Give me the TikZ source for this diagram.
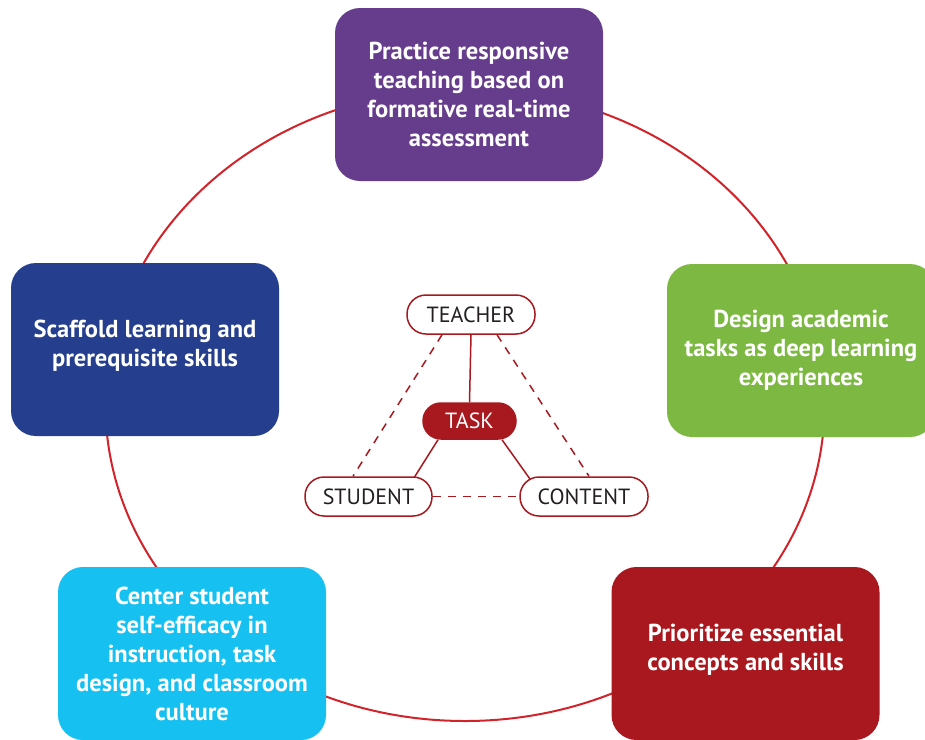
\documentclass[tikz,border=0pt]{standalone}
\usepackage{fontspec}
\setmainfont{PT Sans}
\usetikzlibrary{backgrounds}
\definecolor{ringred}{RGB}{210,35,42}
\definecolor{darkred}{RGB}{168,25,31}
\definecolor{cpurple}{RGB}{102,61,140}
\definecolor{cblue}{RGB}{37,62,141}
\definecolor{cgreen}{RGB}{125,185,66}
\definecolor{ccyan}{RGB}{22,192,240}
\definecolor{cboxred}{RGB}{168,24,30}
\definecolor{labelgray}{RGB}{35,31,32}
\tikzset{
  bigbox/.style={rectangle, rounded corners=25pt, minimum width=268pt, minimum height=173pt,
    inner sep=0pt, align=center, text=white,
    font=\bfseries\fontsize{24.5}{29}\selectfont},
  pill/.style={rectangle, rounded corners=19pt, draw=darkred, line width=1.5pt, fill=white,
    minimum width=128pt, minimum height=39pt, inner sep=0pt, text=labelgray,
    font=\fontsize{22}{24}\selectfont},
  solidlink/.style={draw=darkred, line width=1.5pt},
  dashlink/.style={draw=darkred, line width=1.5pt, dash pattern=on 8pt off 7pt},
}
\begin{document}
\begin{tikzpicture}[x=1pt,y=-1pt]
\useasboundingbox (0,0) rectangle (925,739);
\clip (0,0) rectangle (925,739);
% ring
\draw[ringred, line width=2pt] (465,405) ellipse [x radius=359.5, y radius=316];
% outer boxes
\node[bigbox, fill=cpurple] (practice) at (469,94.5) {Practice responsive\\teaching based on\\formative real-time\\assessment};
\node[bigbox, fill=cblue, text depth=12pt] (scaffold) at (145,349.5) {Scaffold learning and\\prerequisite skills};
\node[bigbox, fill=cgreen] (design) at (801,350.5) {Design academic\\tasks as deep learning\\experiences};
\node[bigbox, fill=ccyan] (center) at (192,653.5) {Center student\\self-efficacy in\\instruction, task\\design, and classroom\\culture};
\node[bigbox, fill=cboxred, text depth=13pt] (prioritize) at (745.5,653.5) {Prioritize essential\\concepts and skills};
% inner triangle
\node[pill] (teacher) at (471,314.5) {TEACHER};
\node[pill, minimum width=93pt, minimum height=36pt, rounded corners=18pt, fill=darkred, text=white] (task) at (469.5,421) {TASK};
\node[pill, minimum width=127pt] (student) at (368.5,496.5) {STUDENT};
\node[pill] (content) at (584,496.5) {CONTENT};
\begin{scope}[on background layer]
\path[solidlink] (teacher.south) -- (task.north);
\path[solidlink, shorten >=-5pt] ([xshift=-31.5pt]task.south) -- ([xshift=46.5pt]student.north);
\path[solidlink, shorten >=-5pt] ([xshift=32.5pt]task.south) -- ([xshift=-56pt]content.north);
\path[dashlink] ([xshift=-29pt]teacher.south) -- ([xshift=-15.5pt]student.north);
\path[dashlink] ([xshift=26pt]teacher.south) -- ([xshift=5pt]content.north);
\path[dashlink] (student.east) -- (content.west);
\end{scope}
\end{tikzpicture}
\end{document}
